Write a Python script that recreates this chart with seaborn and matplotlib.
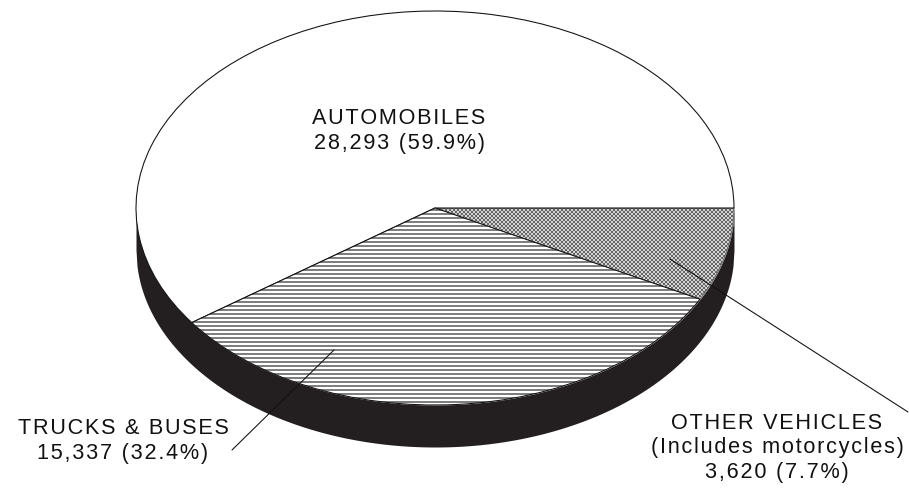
import numpy as np
import matplotlib
matplotlib.use("Agg")
import matplotlib.pyplot as plt
import seaborn as sns

categories = ["AUTOMOBILES", "TRUCKS & BUSES", "OTHER VEHICLES"]
counts = [28293, 15337, 3620]
shares = ["59.9%", "32.4%", "7.7%"]
note = "(Includes motorcycles)"

WIDTH, HEIGHT = 909, 488
DPI = 96  # hatch tile is one dpi wide, 96 gives a clean 4 px line pitch
CX, CY = 435, 208
RX, RY = 299, 197
DEPTH = 42 / RY


def px(x, y):
    return (x - CX) / RX, (CY - y) / RY


def spaced(s):
    # the original has wide tracking
    return "\u200a".join(s)


def main():
    sns.set_theme(style="white")
    plt.rcParams["font.family"] = ["Liberation Sans", "DejaVu Sans"]
    plt.rcParams["hatch.linewidth"] = 0.8

    fig = plt.figure(figsize=(WIDTH / DPI, HEIGHT / DPI), dpi=DPI)
    ax = fig.add_axes([0, 0, 1, 1])

    # side wall of the disc
    x = np.linspace(-1, 1, 600)
    lower = -np.sqrt(1 - x ** 2)
    ax.fill_between(x, lower, lower - DEPTH, color="#231f20", lw=0, zorder=1)

    wedges, _ = ax.pie(counts, startangle=0, counterclock=True, radius=1,
                       colors=["white"] * 3,
                       wedgeprops=dict(edgecolor="#111111", linewidth=0.8, zorder=2))
    wedges[1].set_hatch("-" * 4)
    # hatch colour follows the edge colour, keep the crosshatch wedge underneath
    # so the dark edges of its neighbours stay on top
    wedges[2].set_hatch("x" * 8)
    wedges[2].set_edgecolor("#666666")
    wedges[2].set_zorder(1.5)

    ax.set_aspect("auto")
    ax.set_xlim(px(0, 0)[0], px(WIDTH, 0)[0])
    ax.set_ylim(px(0, HEIGHT)[1], px(0, 0)[1])
    ax.axis("off")

    # leader lines
    for a, b in [((670, 259), (908, 412)), ((334, 350), (232, 450))]:
        p, q = px(*a), px(*b)
        ax.plot([p[0], q[0]], [p[1], q[1]], color="#111111", lw=0.8, zorder=3)

    style = dict(fontsize=16.2, color="#111111", ha="center", va="center", linespacing=1.24)
    labels = [
        (399, 131, f"{categories[0]}\n{counts[0]:,} ({shares[0]})"),
        (123, 441, f"{categories[1]}\n{counts[1]:,} ({shares[1]})"),
        (777, 448, f"{categories[2]}\n{note}\n{counts[2]:,} ({shares[2]})"),
    ]
    for lx, ly, txt in labels:
        p = px(lx, ly)
        ax.text(p[0], p[1], spaced(txt).replace("\u200a\n\u200a", "\n"), **style)

    fig.savefig("out.png", dpi=DPI)


if __name__ == "__main__":
    main()
